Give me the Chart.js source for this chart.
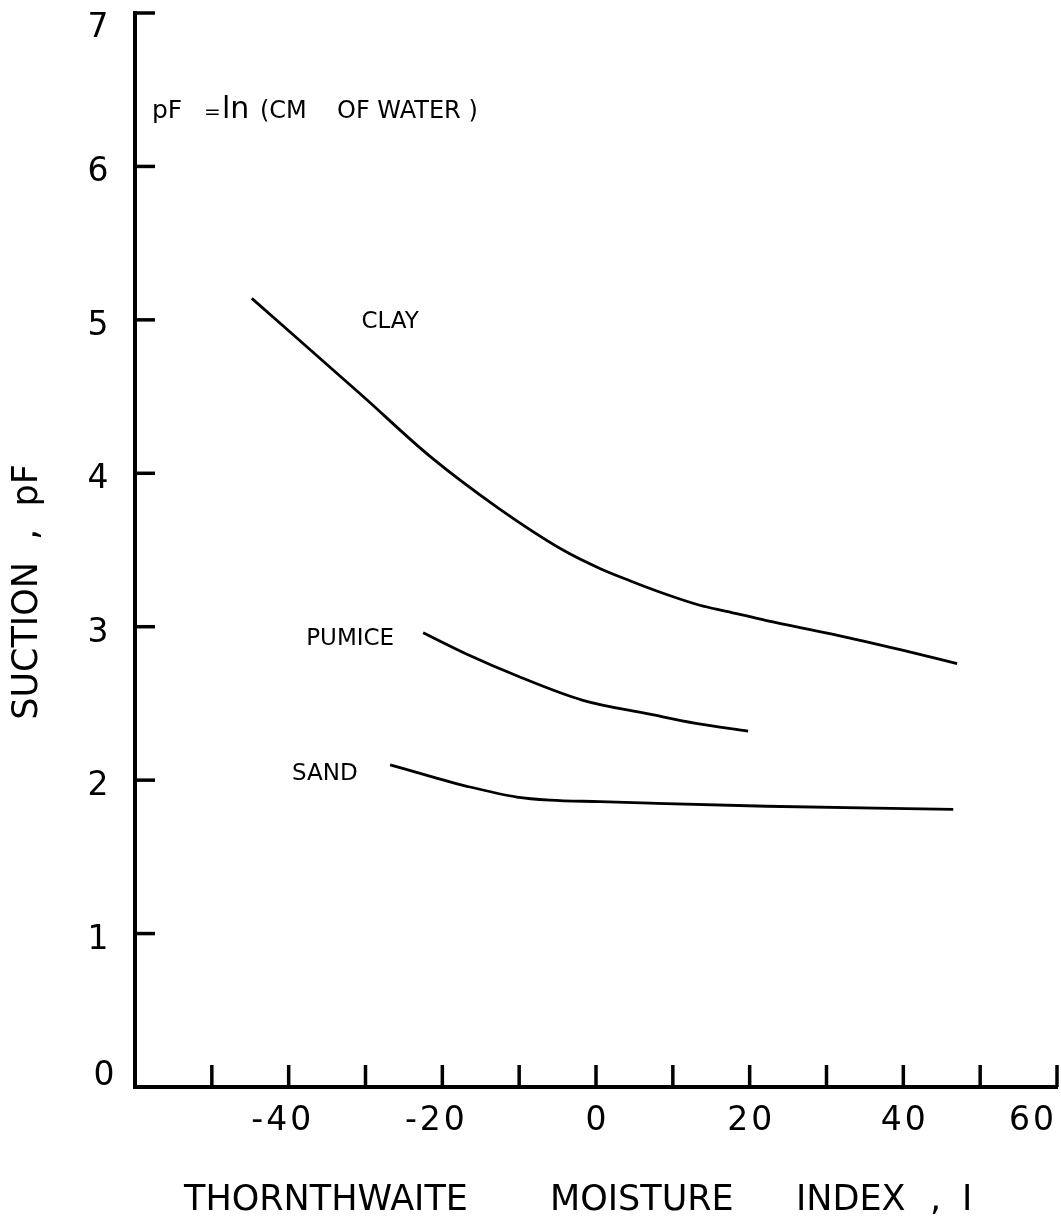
<!DOCTYPE html>
<html>
<head>
<meta charset="utf-8">
<script src="https://cdn.jsdelivr.net/npm/chart.js@4.4.1/dist/chart.umd.min.js"></script>
<style>
  html, body { margin: 0; padding: 0; background: #fff; }
  #chart { display: block; }
</style>
</head>
<body>
<canvas id="chart" width="1061" height="1226"></canvas>
<script>
// values (x = Thornthwaite index, y = suction pF)
const clayX = [-44.8, -30.3, -21.6, -12.9, -4.3, 0.5, 4.4, 9.2, 13.5, 17.0, 22.2, 30.9, 39.6, 47.0];
const clayY = [5.14, 4.50, 4.11, 3.78, 3.50, 3.38, 3.30, 3.21, 3.14, 3.10, 3.04, 2.95, 2.85, 2.76];

const pumiceX = [-22.5, -16.8, -10.3, -1.7, 7.0, 13.0, 19.8];
const pumiceY = [2.96, 2.82, 2.68, 2.52, 2.43, 2.37, 2.32];

const sandX = [-26.8, -21.2, -16.8, -10.3, -6.0, 0.5, 7.0, 22.2, 46.5];
const sandY = [2.10, 2.02, 1.96, 1.89, 1.87, 1.86, 1.85, 1.83, 1.81];

const xLabelValues = [-40, -20, 0, 20, 40, 60];
const yLabelValues = [0, 1, 2, 3, 4, 5, 6, 7];

const curveLabels = [
    { text: 'CLAY', x: -26.8, y: 4.95 },
    { text: 'PUMICE', x: -32.0, y: 2.88 },
    { text: 'SAND', x: -35.3, y: 2.00 }
];

const FONT = '"DejaVu Sans", sans-serif';

function toPoints(xs, ys) {
    return xs.map((x, i) => ({ x: x, y: ys[i] }));
}

function curve(label, xs, ys) {
    return {
        label: label,
        data: toPoints(xs, ys),
        borderColor: '#000',
        borderWidth: 2.8,
        pointRadius: 0,
        fill: false,
        cubicInterpolationMode: 'monotone'
    };
}

// inward tick marks, tick labels, titles and curve names
const figureText = {
    id: 'figureText',
    afterDraw(chart) {
        const { ctx, chartArea: area, scales: { x, y } } = chart;
        ctx.save();
        ctx.strokeStyle = '#000';
        ctx.fillStyle = '#000';
        ctx.lineWidth = 3.5;

        x.ticks.forEach(t => {
            if (t.value <= x.min) return;
            const px = x.getPixelForValue(t.value);
            ctx.beginPath();
            ctx.moveTo(px, area.bottom);
            ctx.lineTo(px, area.bottom - 22);
            ctx.stroke();
        });
        y.ticks.forEach(t => {
            if (t.value <= y.min) return;
            const py = y.getPixelForValue(t.value);
            ctx.beginPath();
            ctx.moveTo(area.left, py);
            ctx.lineTo(area.left + 20, py);
            ctx.stroke();
        });

        // x tick labels: digits centred on the tick, kept inside the canvas
        ctx.font = '33px ' + FONT;
        ctx.letterSpacing = '3px';
        ctx.textBaseline = 'alphabetic';
        ctx.textAlign = 'right';
        xLabelValues.forEach(v => {
            const digits = String(Math.abs(v));
            const w = ctx.measureText(digits).width;
            let right = x.getPixelForValue(v) + w / 2 + 1.5;
            right = Math.min(right, chart.width - 4);
            ctx.fillText((v < 0 ? '-' : '') + digits, right, area.bottom + 43);
        });

        // y tick labels, "0" sits at the corner
        ctx.textAlign = 'center';
        ctx.letterSpacing = '0px';
        yLabelValues.forEach(v => {
            let cy = y.getPixelForValue(v) + 3;
            let cx = area.left - 37;
            if (v === y.min) {
                cy = area.bottom - 14;
                cx = area.left - 31;
            }
            cy = Math.max(cy, area.top + 12);
            ctx.fillText(String(v), cx, cy + 12);
        });

        // curve names
        ctx.font = '23px ' + FONT;
        curveLabels.forEach(l => {
            ctx.fillText(l.text, x.getPixelForValue(l.x), y.getPixelForValue(l.y));
        });

        // note in the top-left corner
        const base = area.top + 105;
        ctx.textAlign = 'left';
        [
            ['pF', 25, 17], ['=', 20, 69], ['ln', 30, 87], ['(CM', 24, 125], ['OF WATER )', 24, 202]
        ].forEach(([txt, size, dx]) => {
            ctx.font = size + 'px ' + FONT;
            ctx.fillText(txt, area.left + dx, base);
        });

        // x axis title
        ctx.font = '35px ' + FONT;
        [
            ['THORNTHWAITE', 49], ['MOISTURE', 415], ['INDEX', 661], [',', 795], ['I', 827]
        ].forEach(([txt, dx]) => {
            ctx.fillText(txt, area.left + dx, area.bottom + 123);
        });

        // y axis title
        ctx.translate(area.left - 107, (area.top + area.bottom) / 2 + 42);
        ctx.rotate(-Math.PI / 2);
        ctx.textAlign = 'center';
        ctx.textBaseline = 'middle';
        ctx.font = '35px ' + FONT;
        ctx.fillText('SUCTION  ,  pF', 0, 0);
        ctx.restore();
    }
};

new Chart(document.getElementById('chart'), {
    type: 'line',
    data: {
        datasets: [
            curve('CLAY', clayX, clayY),
            curve('PUMICE', pumiceX, pumiceY),
            curve('SAND', sandX, sandY)
        ]
    },
    options: {
        responsive: false,
        animation: false,
        layout: { padding: { left: 135, right: 4, top: 13, bottom: 139 } },
        scales: {
            x: {
                type: 'linear',
                min: -60,
                max: 60,
                ticks: { stepSize: 10, display: false },
                grid: { display: false, drawTicks: false },
                border: { display: true, color: '#000', width: 4 }
            },
            y: {
                type: 'linear',
                min: 0,
                max: 7,
                ticks: { stepSize: 1, display: false },
                grid: { display: false, drawTicks: false },
                border: { display: true, color: '#000', width: 4 }
            }
        },
        plugins: {
            legend: { display: false },
            tooltip: { enabled: false }
        }
    },
    plugins: [figureText]
});
</script>
</body>
</html>
